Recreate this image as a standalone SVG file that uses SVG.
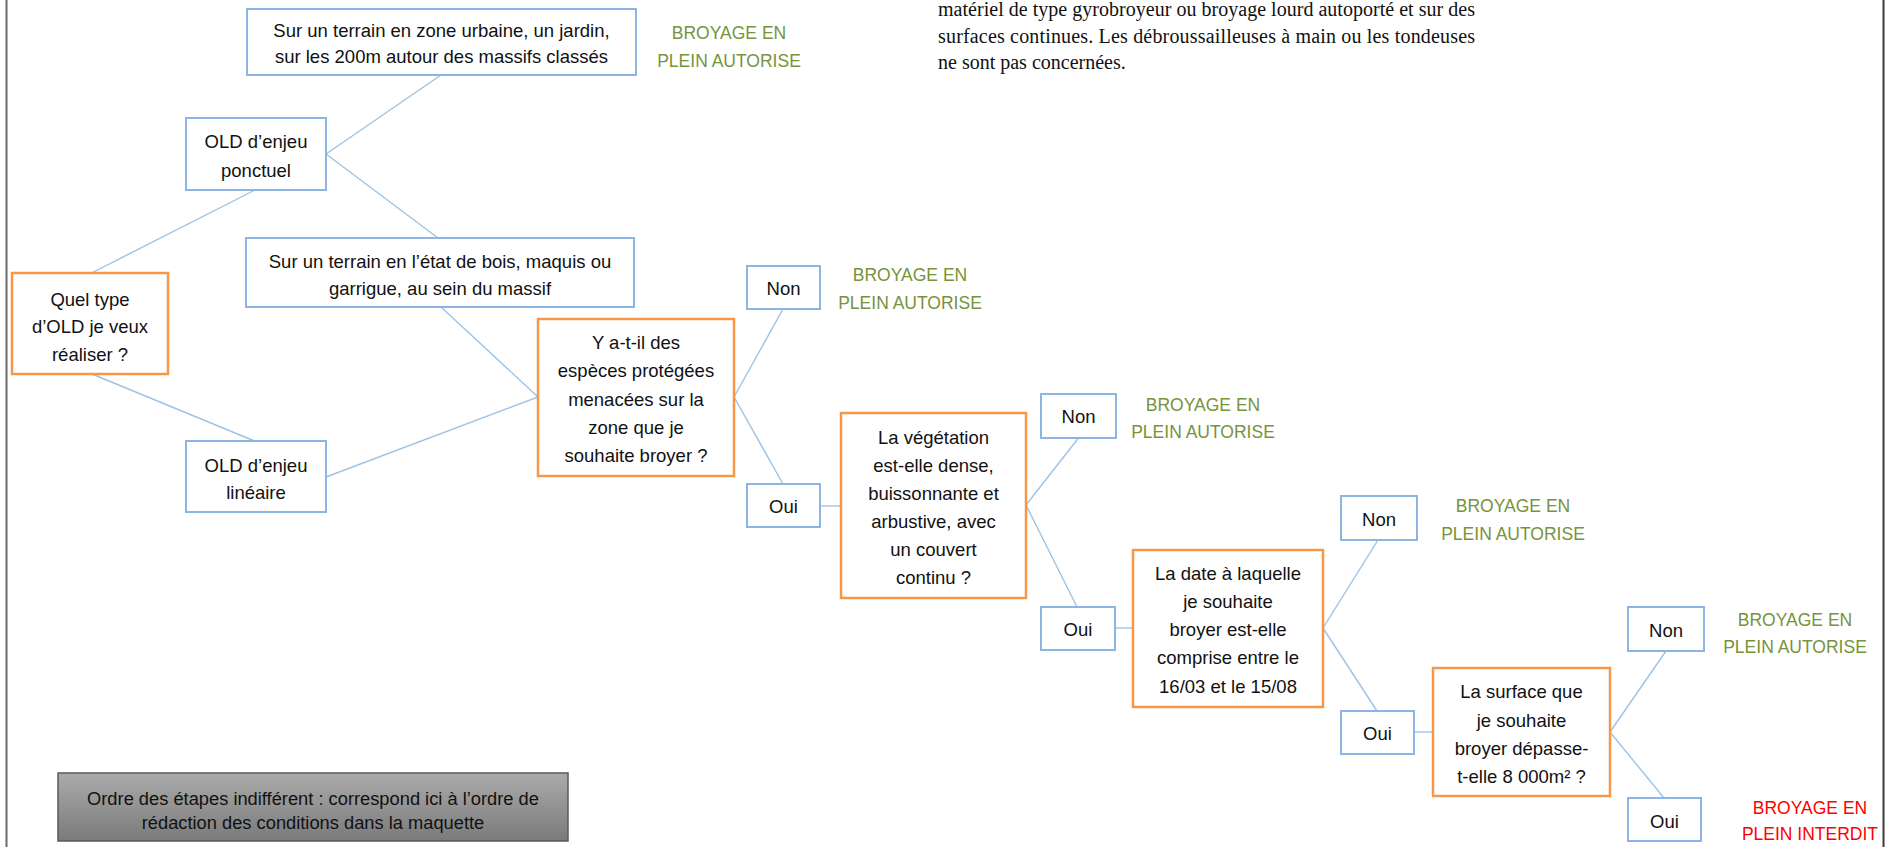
<svg xmlns="http://www.w3.org/2000/svg" width="1892" height="847" viewBox="0 0 1892 847">
<defs>
<linearGradient id="gg" x1="0" y1="0" x2="0" y2="1">
<stop offset="0" stop-color="#ababab"/>
<stop offset="1" stop-color="#7a7a7a"/>
</linearGradient>
<style>
.b{fill:#ffffff;stroke:#8EB4E3;stroke-width:2}
.o{fill:#ffffff;stroke:#F79646;stroke-width:2.5}
.t{font-family:"Liberation Sans",Arial,sans-serif;font-size:18.5px;fill:#111111;text-anchor:middle}
.g{font-family:"Liberation Sans",Arial,sans-serif;font-size:17.5px;fill:#77933C;text-anchor:middle}
.r{font-family:"Liberation Sans",Arial,sans-serif;font-size:17.5px;fill:#FF0000;text-anchor:middle}
.p{font-family:"Liberation Serif","Times New Roman",serif;font-size:20px;fill:#111111}
.c line{stroke:#9DC3E6;stroke-width:1.4}
</style>
</defs>
<rect x="0" y="0" width="1892" height="847" fill="#ffffff"/>
<line x1="6.5" y1="0" x2="6.5" y2="847" stroke="#6a6a6a" stroke-width="2"/>
<line x1="1883.5" y1="0" x2="1883.5" y2="847" stroke="#3a3a3a" stroke-width="2"/>

<g id="paragraph">
<text class="p" x="938" y="16" textLength="537" lengthAdjust="spacing">matériel de type gyrobroyeur ou broyage lourd autoporté et sur des</text>
<text class="p" x="938" y="43" textLength="537" lengthAdjust="spacing">surfaces continues. Les débroussailleuses à main ou les tondeuses</text>
<text class="p" x="938" y="69">ne sont pas concernées.</text>
</g>

<g id="connectors" class="c">
<line x1="441" y1="75" x2="326" y2="154"/>
<line x1="326" y1="154" x2="438" y2="238"/>
<line x1="255" y1="190" x2="91.5" y2="273"/>
<line x1="92" y1="374" x2="254.5" y2="441"/>
<line x1="326" y1="477" x2="538" y2="397"/>
<line x1="441" y1="307" x2="538" y2="397"/>
<line x1="734" y1="397" x2="783" y2="309"/>
<line x1="734" y1="397" x2="783" y2="484"/>
<line x1="820.5" y1="506" x2="841" y2="506"/>
<line x1="1026" y1="505" x2="1078.5" y2="438"/>
<line x1="1026" y1="505" x2="1077" y2="607"/>
<line x1="1115" y1="628" x2="1133" y2="628"/>
<line x1="1323" y1="628" x2="1378" y2="540"/>
<line x1="1323" y1="628" x2="1377" y2="711"/>
<line x1="1414" y1="732" x2="1433" y2="732"/>
<line x1="1610" y1="732" x2="1666" y2="651"/>
<line x1="1610" y1="732" x2="1664" y2="798"/>
</g>

<g id="n-urbain">
<rect class="b" x="247" y="9" width="389" height="66"/>
<text class="t" x="441.5" y="37">Sur un terrain en zone urbaine, un jardin,</text>
<text class="t" x="441.5" y="63">sur les 200m autour des massifs classés</text>
</g>
<g id="r-urbain">
<text class="g" x="729" y="39">BROYAGE EN</text>
<text class="g" x="729" y="67">PLEIN AUTORISE</text>
</g>

<g id="n-ponctuel">
<rect class="b" x="186" y="118" width="140" height="72"/>
<text class="t" x="256" y="148">OLD d’enjeu</text>
<text class="t" x="256" y="177">ponctuel</text>
</g>

<g id="n-bois">
<rect class="b" x="246" y="238" width="388" height="69"/>
<text class="t" x="440" y="268">Sur un terrain en l’état de bois, maquis ou</text>
<text class="t" x="440" y="295">garrigue, au sein du massif</text>
</g>

<g id="n-quel">
<rect class="o" x="12" y="273" width="156" height="101"/>
<text class="t" x="90" y="306">Quel type</text>
<text class="t" x="90" y="333">d’OLD je veux</text>
<text class="t" x="90" y="361">réaliser ?</text>
</g>

<g id="n-lineaire">
<rect class="b" x="186" y="441" width="140" height="71"/>
<text class="t" x="256" y="472">OLD d’enjeu</text>
<text class="t" x="256" y="499">linéaire</text>
</g>

<g id="n-especes">
<rect class="o" x="538" y="319" width="196" height="157"/>
<text class="t" x="636" y="349">Y a-t-il des</text>
<text class="t" x="636" y="377">espèces protégées</text>
<text class="t" x="636" y="405.5">menacées sur la</text>
<text class="t" x="636" y="434">zone que je</text>
<text class="t" x="636" y="462">souhaite broyer ?</text>
</g>

<g id="n-non1">
<rect class="b" x="747" y="266" width="73" height="43"/>
<text class="t" x="783.5" y="295">Non</text>
</g>
<g id="r-non1">
<text class="g" x="910" y="281">BROYAGE EN</text>
<text class="g" x="910" y="309">PLEIN AUTORISE</text>
</g>

<g id="n-oui1">
<rect class="b" x="747" y="484" width="73" height="43"/>
<text class="t" x="783.5" y="513">Oui</text>
</g>

<g id="n-vegetation">
<rect class="o" x="841" y="413" width="185" height="185"/>
<text class="t" x="933.5" y="444">La végétation</text>
<text class="t" x="933.5" y="472">est-elle dense,</text>
<text class="t" x="933.5" y="500">buissonnante et</text>
<text class="t" x="933.5" y="528">arbustive, avec</text>
<text class="t" x="933.5" y="556">un couvert</text>
<text class="t" x="933.5" y="584">continu ?</text>
</g>

<g id="n-non2">
<rect class="b" x="1041" y="394" width="75" height="44"/>
<text class="t" x="1078.5" y="423">Non</text>
</g>
<g id="r-non2">
<text class="g" x="1203" y="411">BROYAGE EN</text>
<text class="g" x="1203" y="438">PLEIN AUTORISE</text>
</g>

<g id="n-oui2">
<rect class="b" x="1041" y="607" width="74" height="43"/>
<text class="t" x="1078" y="636">Oui</text>
</g>

<g id="n-date">
<rect class="o" x="1133" y="550" width="190" height="157"/>
<text class="t" x="1228" y="580">La date à laquelle</text>
<text class="t" x="1228" y="608">je souhaite</text>
<text class="t" x="1228" y="636">broyer est-elle</text>
<text class="t" x="1228" y="664">comprise entre le</text>
<text class="t" x="1228" y="693">16/03 et le 15/08</text>
</g>

<g id="n-non3">
<rect class="b" x="1341" y="496" width="76" height="44"/>
<text class="t" x="1379" y="526">Non</text>
</g>
<g id="r-non3">
<text class="g" x="1513" y="512">BROYAGE EN</text>
<text class="g" x="1513" y="540">PLEIN AUTORISE</text>
</g>

<g id="n-oui3">
<rect class="b" x="1341" y="711" width="73" height="43"/>
<text class="t" x="1377.5" y="740">Oui</text>
</g>

<g id="n-surface">
<rect class="o" x="1433" y="668" width="177" height="128"/>
<text class="t" x="1521.5" y="698">La surface que</text>
<text class="t" x="1521.5" y="727">je souhaite</text>
<text class="t" x="1521.5" y="755">broyer dépasse-</text>
<text class="t" x="1521.5" y="783">t-elle 8 000m² ?</text>
</g>

<g id="n-non4">
<rect class="b" x="1628" y="607" width="76" height="44"/>
<text class="t" x="1666" y="637">Non</text>
</g>
<g id="r-non4">
<text class="g" x="1795" y="626">BROYAGE EN</text>
<text class="g" x="1795" y="653">PLEIN AUTORISE</text>
</g>

<g id="n-oui4">
<rect class="b" x="1628" y="798" width="73" height="43"/>
<text class="t" x="1664.5" y="828">Oui</text>
</g>
<g id="r-oui4">
<text class="r" x="1810" y="814">BROYAGE EN</text>
<text class="r" x="1810" y="840">PLEIN INTERDIT</text>
</g>

<g id="note">
<rect x="58" y="773" width="510" height="68" fill="url(#gg)" stroke="#5a5a5a" stroke-width="1.5"/>
<text class="t" x="313" y="805" style="font-size:18.3px">Ordre des étapes indifférent : correspond ici à l’ordre de</text>
<text class="t" x="313" y="829" style="font-size:18.3px">rédaction des conditions dans la maquette</text>
</g>
</svg>
